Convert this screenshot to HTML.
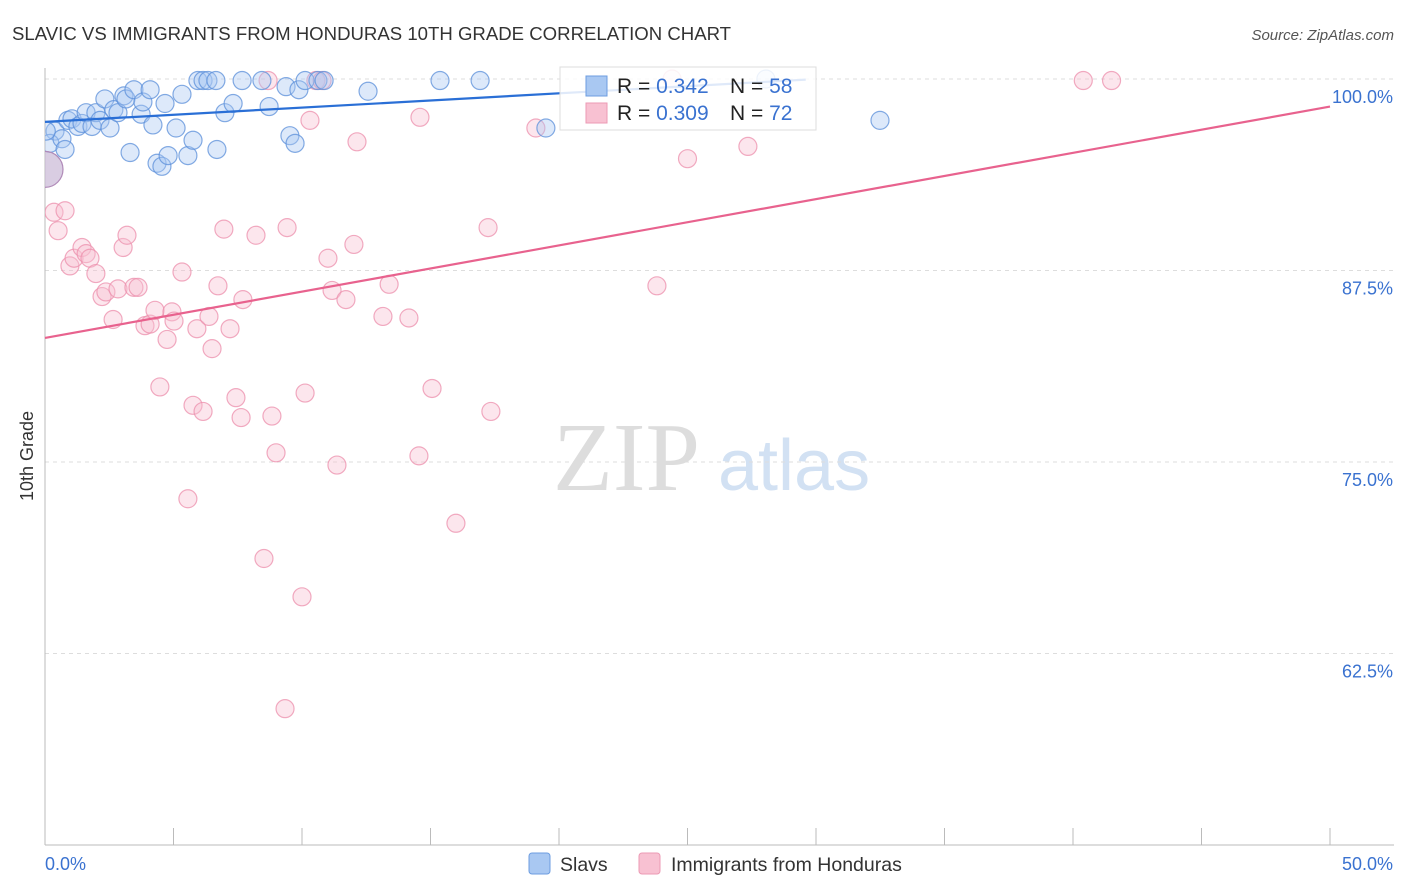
<!DOCTYPE html>
<html><head><meta charset="utf-8"><style>
body{margin:0;background:#fff;font-family:"Liberation Sans",sans-serif;}
#wrap{position:relative;width:1406px;height:892px;overflow:hidden;}
</style></head><body>
<div id="wrap">
<svg id="svg" width="1406" height="892" xmlns="http://www.w3.org/2000/svg">
<defs><clipPath id="plotclip"><rect x="45" y="60" width="1361" height="785"/></clipPath></defs>
<text x="12" y="40" font-size="18.6" fill="#333">SLAVIC VS IMMIGRANTS FROM HONDURAS 10TH GRADE CORRELATION CHART</text>
<text x="1394" y="40" font-size="15" fill="#555" font-style="italic" text-anchor="end">Source: ZipAtlas.com</text>
<text x="33" y="456" font-size="18" fill="#333" transform="rotate(-90 33 456)" text-anchor="middle">10th Grade</text>
<g>
<text x="553" y="490" font-size="98" fill="#ddd" font-family="Liberation Serif,serif">ZIP</text>
<text x="718" y="490" font-size="72" fill="#d2e1f3">atlas</text>
</g>
<g id="grid"></g><g id="axes"></g><g id="pts" clip-path="url(#plotclip)"></g><g id="lines"></g>
<g>
<rect x="560" y="67" width="256" height="63" fill="#fff" fill-opacity="0.85" stroke="#ddd"/>
<rect x="586" y="76" width="21" height="20" fill="#a9c8f2" stroke="#6d9de0"/>
<rect x="586" y="103" width="21" height="20" fill="#f8c1d2" stroke="#ec9ab4"/>
<text x="617" y="93" font-size="21" fill="#222">R = <tspan fill="#3a72d0">0.342</tspan></text>
<text x="730" y="93" font-size="21" fill="#222">N = <tspan fill="#3a72d0">58</tspan></text>
<text x="617" y="120" font-size="21" fill="#222">R = <tspan fill="#3a72d0">0.309</tspan></text>
<text x="730" y="120" font-size="21" fill="#222">N = <tspan fill="#3a72d0">72</tspan></text>
</g>
<g>
<rect x="529" y="853" width="21" height="21" rx="3" fill="#a9c8f2" stroke="#6d9de0"/>
<text x="560" y="871" font-size="19.5" fill="#333">Slavs</text>
<rect x="639" y="853" width="21" height="21" rx="3" fill="#f8c1d2" stroke="#ec9ab4"/>
<text x="671" y="871" font-size="19.5" fill="#333">Immigrants from Honduras</text>
</g>
</svg>
</div>
<script>
const slavX=[0.39,0.19,0.66,0.78,0.89,1.05,1.28,1.44,1.60,1.83,1.98,2.14,2.33,2.53,2.68,2.84,3.07,3.15,3.31,3.46,3.74,3.81,4.09,4.20,4.36,4.55,4.67,4.79,5.10,5.33,5.56,5.76,5.95,6.15,6.34,6.65,6.69,7.0,7.32,7.67,8.44,8.72,9.38,9.53,9.73,9.88,10.12,10.62,10.86,12.57,15.37,16.93,19.49,32.49,28.05,0.05];
const slavY=[96.6,95.8,96.1,95.4,97.3,97.4,96.9,97.1,97.8,96.9,97.8,97.3,98.7,96.8,98.0,97.8,98.9,98.7,95.2,99.3,97.7,98.5,99.3,97.0,94.5,94.3,98.4,95.0,96.8,99.0,95.0,96.0,99.9,99.9,99.9,99.9,95.4,97.8,98.4,99.9,99.9,98.2,99.5,96.3,95.8,99.3,99.9,99.9,99.9,99.2,99.9,99.9,96.8,97.3,100,96.6];
const hondX=[0.35,0.51,0.78,0.97,1.13,1.44,1.60,1.75,1.98,2.22,2.37,2.65,2.84,3.04,3.19,3.46,3.62,3.89,4.09,4.28,4.47,4.75,4.94,5.02,5.33,5.56,5.76,5.91,6.15,6.38,6.50,6.73,6.96,7.20,7.43,7.63,7.70,8.21,8.52,8.68,8.83,8.99,9.42,9.34,10.0,10.12,10.31,10.54,10.78,11.01,11.17,11.36,11.71,12.02,12.14,13.15,13.39,14.16,14.55,14.59,15.06,15.99,17.24,17.35,19.1,23.81,24.4,25.0,27.35,40.4,41.5];
const hondY=[91.3,90.1,91.4,87.8,88.3,89.0,88.6,88.3,87.3,85.8,86.1,84.3,86.3,89.0,89.8,86.4,86.4,83.9,84.0,84.9,79.9,83.0,84.8,84.2,87.4,72.6,78.7,83.7,78.3,84.5,82.4,86.5,90.2,83.7,79.2,77.9,85.6,89.8,68.7,99.9,78.0,75.6,90.3,58.9,66.2,79.5,97.3,99.9,99.9,88.3,86.2,74.8,85.6,89.2,95.9,84.5,86.6,84.4,75.4,97.5,79.8,71.0,90.3,78.3,96.8,86.5,100,94.8,95.6,99.9,99.9];
const bigX=[0], bigY=[94.1];
const slavTrendX=[0,29.6], slavTrendY=[97.2,99.96];
const hondTrendX=[0,50], hondTrendY=[83.1,98.2];
const yTicks=[100,87.5,75,62.5];
const yTickLabels=["100.0%","87.5%","75.0%","62.5%"];
const xTicks=[0,5,10,15,20,25,30,35,40,45,50];
const xEndLabels=["0.0%","50.0%"];
const NS="http://www.w3.org/2000/svg";
const X=v=>45+v/50*1285, Y=v=>79+(100-v)*15.32;
function mk(t,a,p){const e=document.createElementNS(NS,t);for(const k in a)e.setAttribute(k,a[k]);p.appendChild(e);return e;}
const grid=document.getElementById('grid'),axes=document.getElementById('axes'),pts=document.getElementById('pts'),lines=document.getElementById('lines');
yTicks.forEach((v,i)=>{
 const l=mk('line',{x1:45,x2:1394,y1:Y(v),y2:Y(v),stroke:'#ddd','stroke-dasharray':'4,4'},grid);
 
 
 const t=mk('text',{x:1393,y:Y(v)+24,'font-size':18,fill:'#3a72d0','text-anchor':'end'},grid);
 t.textContent=yTickLabels[i];
 
 
});
let a=mk('line',{x1:45,x2:45,y1:68,y2:845,stroke:'#bbb'},axes);


a=mk('line',{x1:45,x2:1394,y1:845,y2:845,stroke:'#bbb'},axes);


xTicks.forEach(v=>{
 const l=mk('line',{x1:X(v),x2:X(v),y1:828,y2:845,stroke:'#bbb'},axes);
 
 
});
let t=mk('text',{x:45,y:870,'font-size':18,fill:'#3a72d0'},axes);t.textContent=xEndLabels[0];


t=mk('text',{x:1393,y:870,'font-size':18,fill:'#3a72d0','text-anchor':'end'},axes);t.textContent=xEndLabels[1];


function dots(xs,ys,fill,stroke,name){xs.forEach((v,i)=>{
 const c=mk('circle',{cx:X(v),cy:Y(ys[i]),r:9,fill:fill,'fill-opacity':0.4,stroke:stroke,'stroke-width':1.2,'stroke-opacity':0.75},pts);
 
 
});}
dots(hondX,hondY,'#f8c1d2','#ec8fac','point-honduras');
dots(slavX,slavY,'#a9c8f2','#5b8fd9','point-slavs');
bigX.forEach((v,i)=>{
 const c=mk('circle',{cx:X(v),cy:Y(bigY[i]),r:18,fill:'#c9b8d6','fill-opacity':0.7,stroke:'#b08ab8','stroke-width':1.2},pts);
 
 
});
let ln=mk('line',{x1:X(slavTrendX[0]),y1:Y(slavTrendY[0]),x2:X(slavTrendX[1]),y2:Y(slavTrendY[1]),stroke:'#2a6fd6','stroke-width':2.2},lines);


ln=mk('line',{x1:X(hondTrendX[0]),y1:Y(hondTrendY[0]),x2:X(hondTrendX[1]),y2:Y(hondTrendY[1]),stroke:'#e8628e','stroke-width':2.2},lines);


</script>
</body></html>
